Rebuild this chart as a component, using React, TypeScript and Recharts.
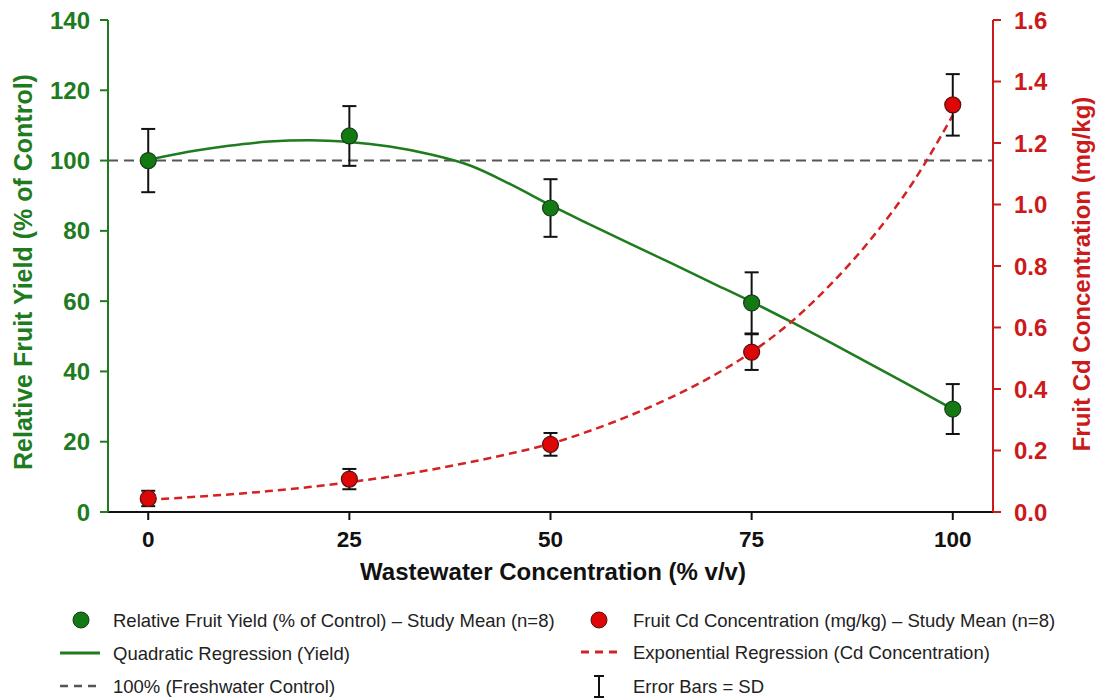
import React from "react";
import { ComposedChart, Line, Scatter, ErrorBar, XAxis, YAxis, ReferenceLine } from "recharts";

const concentrations = [0, 25, 50, 75, 100];
const yieldMean = [100, 107, 86.5, 59.5, 29.3];
const yieldSD = [9, 8.5, 8.2, 8.7, 7.1];
const cdMean = [0.044, 0.107, 0.22, 0.52, 1.324];
const cdSD = [0.025, 0.033, 0.037, 0.058, 0.1];

// regression curves, every 5 % v/v
const fitX = [0, 5, 10, 15, 20, 25, 30, 35, 40, 45, 50, 55, 60, 65, 70, 75, 80, 85, 90, 95, 100];
const yieldFit = [100.2, 102.5, 104.2, 105.4, 105.8, 105.3, 104, 101.8, 98.6, 93.3, 87.3, 81.7, 76.2, 70.8, 65.3, 59.8, 54.0, 48.0, 41.8, 35.6, 29.3];
const cdFit = [0.04, 0.048, 0.057, 0.068, 0.081, 0.097, 0.115, 0.137, 0.162, 0.19, 0.222, 0.265, 0.315, 0.373, 0.44, 0.52, 0.62, 0.745, 0.893, 1.07, 1.29];

const xTicks = [0, 25, 50, 75, 100];
const leftTicks = [0, 20, 40, 60, 80, 100, 120, 140];
const rightTicks = [0, 0.2, 0.4, 0.6, 0.8, 1.0, 1.2, 1.4, 1.6];

const GREEN = "#1e7b1e";
const GREEN_DOT = "#137a13";
const RED = "#cc1a1a";
const RED_DOT = "#dd0707";
const RED_LINE = "#d42222";
const GREY = "#555";
const SANS = "'Liberation Sans', Arial, sans-serif";

const yieldPts = concentrations.map((x, i) => ({ x, y: yieldMean[i], err: yieldSD[i] }));
const cdPts = concentrations.map((x, i) => ({ x, y: cdMean[i], err: cdSD[i] }));
const yieldCurve = fitX.map((x, i) => ({ x, y: yieldFit[i] }));
const cdCurve = fitX.map((x, i) => ({ x, y: cdFit[i] }));

const XTick = ({ x, payload }: any) => (
  <text x={x} y={547} textAnchor="middle"
    fontFamily={SANS} fontWeight="bold" fontSize={22.5} fill="#111">{payload.value}</text>
);
const LeftTick = ({ y, payload }: any) => (
  <text x={90} y={y} dy="0.36em" textAnchor="end"
    fontFamily={SANS} fontWeight="bold" fontSize={24} fill={GREEN}>{payload.value}</text>
);
const RightTick = ({ y, payload }: any) => (
  <text x={1014} y={y} dy="0.36em" textAnchor="start"
    fontFamily={SANS} fontWeight="bold" fontSize={24} fill={RED}>{payload.value.toFixed(1)}</text>
);

const dot = (fill: string, stroke: string) => (p: any) => (
  <circle cx={p.cx} cy={p.cy} r={8} fill={fill} stroke={stroke} strokeWidth={1.2} />
);

function Overlay() {
  const lg = { fontFamily: SANS, fontSize: 18.5, fill: "#222", dominantBaseline: "central" } as const;
  return (
    <svg width={1099} height={698} style={{ position: "absolute", left: 0, top: 0, pointerEvents: "none" }}>
      <text x={23} y={272} transform="rotate(-90 23 272)" textAnchor="middle" dominantBaseline="central"
        fontFamily={SANS} fontWeight="bold" fontSize={25} fill={GREEN}>Relative Fruit Yield (% of Control)</text>
      <text x={1081} y={274} transform="rotate(-90 1081 274)" textAnchor="middle" dominantBaseline="central"
        fontFamily={SANS} fontWeight="bold" fontSize={24} fill={RED}>Fruit Cd Concentration (mg/kg)</text>
      <text x={553} y={571} textAnchor="middle" dominantBaseline="central"
        fontFamily={SANS} fontWeight="bold" fontSize={24} fill="#111">Wastewater Concentration (% v/v)</text>

      <circle cx={81} cy={620} r={8} fill={GREEN_DOT} stroke="#1a3a1a" strokeWidth={1} />
      <text x={113} y={620} {...lg}>Relative Fruit Yield (% of Control) – Study Mean (n=8)</text>
      <line x1={60} x2={100} y1={653} y2={653} stroke={GREEN} strokeWidth={3} />
      <text x={113} y={653} {...lg}>Quadratic Regression (Yield)</text>
      <line x1={60} x2={100} y1={686} y2={686} stroke={GREY} strokeWidth={2.5} strokeDasharray="8 6" />
      <text x={113} y={686} {...lg}>100% (Freshwater Control)</text>

      <circle cx={599} cy={620} r={8} fill={RED_DOT} stroke="#5a1010" strokeWidth={1} />
      <text x={633} y={620} {...lg}>Fruit Cd Concentration (mg/kg) – Study Mean (n=8)</text>
      <line x1={581} x2={621} y1={652} y2={652} stroke={RED_LINE} strokeWidth={3} strokeDasharray="8 6" />
      <text x={633} y={652} {...lg}>Exponential Regression (Cd Concentration)</text>
      <g stroke="#111" strokeWidth={2}>
        <line x1={599} x2={599} y1={676} y2={697} />
        <line x1={594} x2={604} y1={676} y2={676} />
        <line x1={594} x2={604} y1={697} y2={697} />
      </g>
      <text x={633} y={686} {...lg}>Error Bars = SD</text>
    </svg>
  );
}

export default function App() {
  return (
    <div style={{ position: "absolute", left: 0, top: 0, width: 1099, height: 698, background: "#fff" }}>
      <ComposedChart width={1099} height={600} margin={{ top: 20, right: 0, left: 0, bottom: 0 }}>
        <XAxis type="number" dataKey="x" domain={[-5, 105]} ticks={xTicks} allowDataOverflow
          height={88} tickSize={8} tick={<XTick />}
          axisLine={{ stroke: "#111", strokeWidth: 2 }} tickLine={{ stroke: "#111", strokeWidth: 2 }} />
        <YAxis yAxisId="left" orientation="left" type="number" domain={[0, 140]} ticks={leftTicks}
          width={108} tickSize={8} tick={<LeftTick />}
          axisLine={{ stroke: GREEN, strokeWidth: 2 }} tickLine={{ stroke: GREEN, strokeWidth: 2 }} />
        <YAxis yAxisId="right" orientation="right" type="number" domain={[0, 1.6]} ticks={rightTicks}
          width={106} tickSize={8} tick={<RightTick />}
          axisLine={{ stroke: RED, strokeWidth: 2 }} tickLine={{ stroke: RED, strokeWidth: 2 }} />
        <ReferenceLine yAxisId="left" y={100} stroke={GREY} strokeWidth={2} strokeDasharray="10 6" />
        <Line yAxisId="left" data={yieldCurve} dataKey="y" type="monotone" stroke={GREEN}
          strokeWidth={2.5} dot={false} isAnimationActive={false} />
        <Line yAxisId="right" data={cdCurve} dataKey="y" type="monotone" stroke={RED_LINE}
          strokeWidth={2.5} strokeDasharray="8 5" dot={false} isAnimationActive={false} />
        <Scatter yAxisId="left" data={yieldPts} dataKey="y" shape={dot(GREEN_DOT, "#1a3a1a")} isAnimationActive={false}>
          <ErrorBar dataKey="err" direction="y" width={7} stroke="#111" strokeWidth={2} isAnimationActive={false} />
        </Scatter>
        <Scatter yAxisId="right" data={cdPts} dataKey="y" shape={dot(RED_DOT, "#5a1010")} isAnimationActive={false}>
          <ErrorBar dataKey="err" direction="y" width={7} stroke="#111" strokeWidth={2} isAnimationActive={false} />
        </Scatter>
      </ComposedChart>
      <Overlay />
    </div>
  );
}
